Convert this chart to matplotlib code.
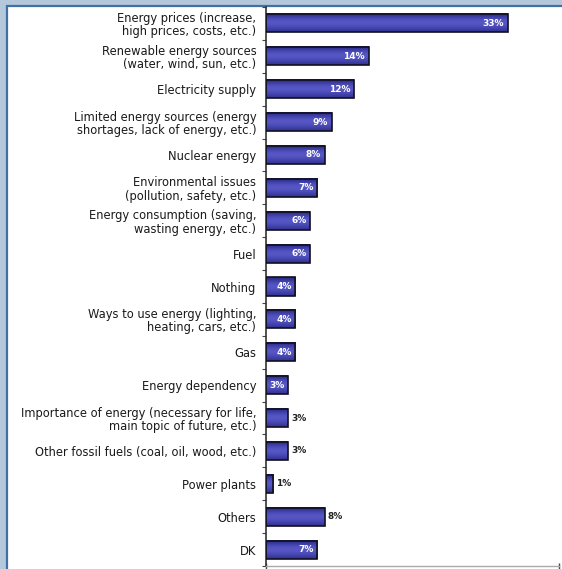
import matplotlib.pyplot as plt
from matplotlib.patches import Rectangle
import numpy as np

categories = [
    "Energy prices (increase,\nhigh prices, costs, etc.)",
    "Renewable energy sources\n(water, wind, sun, etc.)",
    "Electricity supply",
    "Limited energy sources (energy\nshortages, lack of energy, etc.)",
    "Nuclear energy",
    "Environmental issues\n(pollution, safety, etc.)",
    "Energy consumption (saving,\nwasting energy, etc.)",
    "Fuel",
    "Nothing",
    "Ways to use energy (lighting,\nheating, cars, etc.)",
    "Gas",
    "Energy dependency",
    "Importance of energy (necessary for life,\nmain topic of future, etc.)",
    "Other fossil fuels (coal, oil, wood, etc.)",
    "Power plants",
    "Others",
    "DK",
]
values = [33, 14, 12, 9, 8, 7, 6, 6, 4, 4, 4, 3, 3, 3, 1, 8, 7]
# labels written next to the bar instead of inside it
outside = [False] * 12 + [True, True, True, True, False]

BAR_H = 0.55

fig = plt.figure(figsize=(5.62, 5.69), dpi=100, facecolor="#b5c7db")

# white panel with a blue frame, kept behind the axes
panel = Rectangle((7 / 562, -0.05), 1.0, 1 - 6 / 569 + 0.05, transform=fig.transFigure,
                  facecolor="white", edgecolor="#3f72a3", linewidth=1.6, zorder=-10)
fig.patches.append(panel)

ax = fig.add_axes([266 / 562, 3 / 569, 293 / 562, 559 / 569], zorder=5)
ax.set_facecolor("none")

y = np.arange(len(values))
bars = ax.barh(y, values, height=BAR_H, color="none", edgecolor="#101020",
               linewidth=1.2, zorder=3)

# vertical shading inside each bar: dark rim, lighter middle
shade = np.array([0.0, 0.5, 0.85, 1.0, 0.85, 0.6, 0.2]).reshape(-1, 1)
cmap = plt.matplotlib.colors.LinearSegmentedColormap.from_list("bar", ["#2a2a8a", "#5858c8"])
for b in bars:
    x0, y0, w, h = b.get_x(), b.get_y(), b.get_width(), b.get_height()
    ax.imshow(shade, cmap=cmap, aspect="auto", interpolation="bicubic",
              extent=(x0, x0 + w, y0 + h, y0), zorder=2)

for yi, v, out in zip(y, values, outside):
    if out:
        ax.text(v + 0.4, yi, f"{v}%", ha="left", va="center", fontsize=6.5,
                fontweight="bold", color="#222222", zorder=4)
    else:
        ax.text(v - 0.5, yi, f"{v}%", ha="right", va="center", fontsize=6.5,
                fontweight="bold", color="white", zorder=4)

ax.set_xlim(0, 40)
ax.set_ylim(len(values) - 0.5, -0.5)

ax.set_yticks(y)
ax.set_yticklabels(categories, fontsize=8.3, color="#1a1a1a", linespacing=1.05)
ax.tick_params(axis="y", which="major", length=0, pad=7)
ax.set_yticks(np.arange(-0.5, len(values), 1.0), minor=True)
ax.tick_params(axis="y", which="minor", length=3, width=0.8, color="#444444")

ax.set_xticks([0, 40])
ax.set_xticklabels([])
ax.tick_params(axis="x", length=4, width=1, color="#444444", direction="inout")

for side in ("top", "right"):
    ax.spines[side].set_visible(False)
ax.spines["left"].set_color("#333333")
ax.spines["left"].set_linewidth(1.2)
ax.spines["bottom"].set_color("#aaaaaa")
ax.spines["bottom"].set_linewidth(1.0)

fig.savefig("out.png", dpi=100, facecolor=fig.get_facecolor())
